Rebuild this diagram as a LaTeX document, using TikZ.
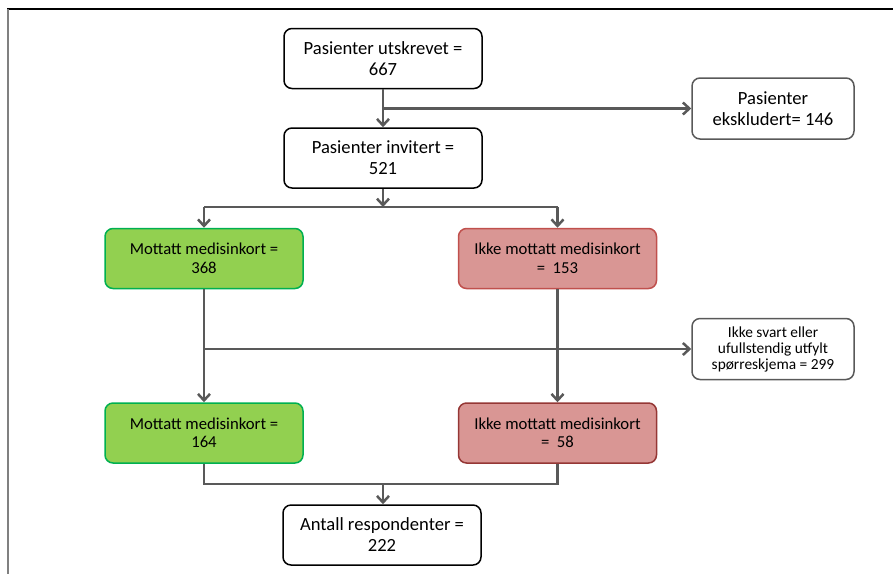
\documentclass[tikz,border=0pt]{standalone}
\usepackage{fontspec}
\setmainfont{Carlito}
\usetikzlibrary{arrows.meta}
\definecolor{connc}{HTML}{595959}
\definecolor{gfill}{HTML}{92D050}
\definecolor{gline}{HTML}{00B050}
\definecolor{rfill}{HTML}{D99694}
\definecolor{rline}{HTML}{C0504D}
\definecolor{rlinedark}{HTML}{953735}
\begin{document}
\begin{tikzpicture}[x=1pt,y=-1pt,
  box/.style={draw=black, line width=1.5pt, rounded corners=8pt, minimum width=198pt, minimum height=60pt, align=center, inner sep=0pt, font=\fontsize{18.6}{21}\selectfont},
  gbox/.style={box, fill=gfill, draw=gline, font=\fontsize{16.7}{18.5}\selectfont},
  rbox/.style={box, fill=rfill, draw=rline, font=\fontsize{16.7}{18.5}\selectfont},
  rboxdark/.style={rbox, draw=rlinedark},
  sidebox/.style={box, draw=connc, minimum width=162pt, minimum height=61pt},
  smallbox/.style={sidebox, font=\fontsize{15.4}{16}\selectfont},
  conn/.style={draw=connc, line width=2.5pt},
  arr/.style={conn, -{Straight Barb[length=6.5pt,width=12pt]}}
]
\useasboundingbox (0,0) rectangle (893,574);
\draw[black, line width=1.5pt] (7,9) -- (893,9);
\draw[gray, line width=2pt] (7.5,9) -- (7.5,574);

\node[box] (a) at (383,58.5) {Pasienter utskrevet =\\667};
\node[sidebox] (ex) at (773,108.5) {Pasienter\\ekskludert= 146};
\node[box] (b) at (383,158) {Pasienter invitert =\\521};
\node[gbox] (g1) at (204,258.5) {Mottatt medisinkort =\\368};
\node[rbox] (r1) at (557.5,258.5) {Ikke mottatt medisinkort\\=\ \ 153};
\node[smallbox] (ns) at (773,349) {Ikke svart eller\\ufullstendig utfylt\\spørreskjema = 299};
\node[gbox] (g2) at (204,433) {Mottatt medisinkort =\\164};
\node[rboxdark] (r2) at (557.5,433) {Ikke mottatt medisinkort\\=\ \ 58};
\node[box] (f) at (382,535) {Antall respondenter =\\222};

\draw[arr] (a.south) -- (b.north);
\coordinate (j1) at (a.south |- ex.west);
\draw[arr] (j1) -- (ex.west);

\coordinate (j2) at (383,207);
\draw[arr] (b.south) -- (j2);
\draw[conn] (g1.north |- j2) -- (r1.north |- j2);
\draw[arr] (g1.north |- j2) -- (g1.north);
\draw[arr] (r1.north |- j2) -- (r1.north);

\draw[arr] (g1.south) -- (g2.north);
\coordinate (j3) at (g1.south |- ns.west);
\draw[arr] (j3) -- (ns.west);
\draw[arr] (r1.south) -- (r2.north);

\coordinate (j4) at (383,484);
\draw[conn, line join=miter] (g2.south) |- (r2.south |- j4) -- (r2.south);
\draw[arr] (j4) -- (j4 |- f.north);
\end{tikzpicture}
\end{document}
